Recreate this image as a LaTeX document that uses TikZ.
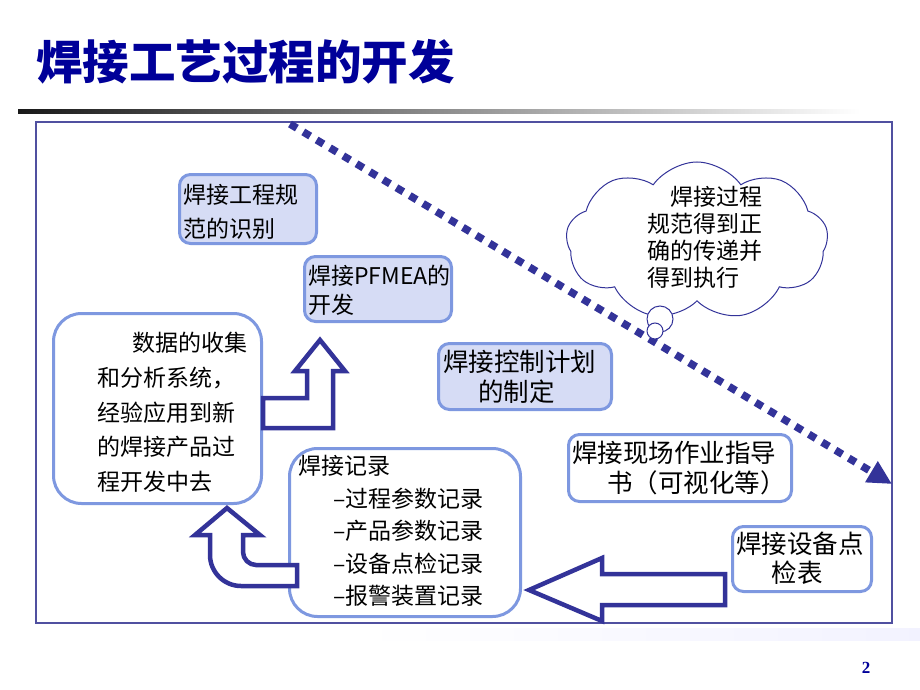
\documentclass[tikz,border=0pt]{standalone}
\usepackage{fontspec}
\setmainfont{Liberation Serif}
\newfontfamily\cjk{Noto Sans CJK SC}
\usetikzlibrary{shapes.symbols,arrows.meta}
\definecolor{titleblue}{RGB}{0,0,153}
\definecolor{navy}{RGB}{51,51,153}
\definecolor{framecol}{RGB}{80,80,160}
\definecolor{boxedge}{RGB}{126,152,224}
\definecolor{boxfill}{RGB}{214,220,245}
\tikzset{
  rbox/.style={draw=boxedge, line width=3pt, rounded corners=11pt, inner sep=0pt, fill=white},
  fbox/.style={rbox, fill=boxfill},
  bigbox/.style={rbox, rounded corners=28pt},
  txt/.style={font=\cjk\fontsize{23}{33}\selectfont, align=left, inner sep=0pt, anchor=west},
  txtb/.style={font=\cjk\fontsize{25.5}{30}\selectfont, align=left, inner sep=0pt, anchor=west},
  blockarrow/.style={draw=navy, line width=4.5pt, fill=white, line join=miter},
  bubble/.style={circle, draw=navy, fill=white, line width=1pt, inner sep=0pt},
}
\begin{document}
\begin{tikzpicture}[x=1pt,y=-1pt]
\useasboundingbox (0,0) rectangle (920,690);
\fill[white] (0,0) rectangle (920,690);
% title and rule
\node[font=\cjk\bfseries\fontsize{46.5}{50}\selectfont, text=titleblue, anchor=west, inner sep=0pt] (title) at (36,61.5) {焊接工艺过程的开发};
\shade[left color=black!90, right color=white] (18,110) rectangle (860,114);
% frame
\draw[framecol, line width=1.2pt] (36,122) rectangle (892,623);
\shade[left color=white, right color=blue!5] (360,628) rectangle (920,640);
% dotted arrow
\coordinate (dstart) at (290,124);
\coordinate (dend) at (892,484);
\draw[navy, line width=7.5pt, dash pattern=on 8pt off 7.5pt, -{Triangle[length=24pt,width=23pt]}] (dstart) -- (dend);
% boxes
\node[fbox, minimum width=137, minimum height=69] (spec) at (248,209) {};
\node[fbox, minimum width=147, minimum height=65] (pfmea) at (378,289) {};
\node[bigbox, minimum width=208, minimum height=190] (data) at (157.5,408.5) {};
\node[bigbox, minimum width=231, minimum height=168] (rec) at (405,532.5) {};
\node[fbox, minimum width=173, minimum height=66] (ctrl) at (525,376.5) {};
\node[rbox, minimum width=223, minimum height=67] (field) at (680,468) {};
\node[rbox, minimum width=139, minimum height=65] (equip) at (802,559) {};
% block arrows
\draw[blockarrow] (263,398) -- (307,398) -- (307,371) -- (295,371) -- (320,340) -- (345,371) -- (333,371) -- (333,428) -- (263,428) -- cycle;
\draw[blockarrow] (297,565) -- (256,565) .. controls (249,565) and (243,559) .. (243,552) -- (243,535) -- (260,535) -- (227,508) -- (195,535) -- (210,535) -- (210,555) .. controls (210,572) and (224,586) .. (241,586) -- (297,586) -- cycle;
\draw[blockarrow] (725,574) -- (602,574) -- (602,558) -- (529,590) -- (602,621) -- (602,605) -- (725,605) -- cycle;
% cloud
\node[cloud, cloud puffs=9, cloud puff arc=110, cloud ignores aspect, draw=navy, fill=white, line width=1pt, minimum width=262, minimum height=158, inner sep=0pt] (cloud) at (697,241) {};
\node[bubble, minimum size=26] (b1) at (660,319) {};
\node[bubble, minimum size=16] (b2) at (655,331) {};
% texts
\node[txt, font=\cjk\fontsize{23}{34}\selectfont] (specT) at (183,211.5) {焊接工程规\\范的识别};
\node[txt, font=\cjk\fontsize{23}{29}\selectfont] (pfmeaT) at (308,290) {焊接PFMEA的\\开发};
\node[txt, font=\cjk\fontsize{23}{34.75}\selectfont] (dataT) at (97,412.5) {\hspace*{35pt}数据的收集\\和分析系统，\\经验应用到新\\的焊接产品过\\程开发中去};
\node[txt, font=\cjk\fontsize{23}{32.5}\selectfont] (recT) at (298,531) {焊接记录\\\hspace*{35pt}–过程参数记录\\\hspace*{35pt}–产品参数记录\\\hspace*{35pt}–设备点检记录\\\hspace*{35pt}–报警装置记录};
\node[txtb] (ctrlT) at (443,377) {焊接控制计划\\\hspace*{35pt}的制定};
\node[txtb] (fieldT) at (572,468) {焊接现场作业指导\\\hspace*{35pt}书（可视化等）};
\node[txtb, font=\cjk\fontsize{25.5}{29}\selectfont] (equipT) at (736,558.5) {焊接设备点\\\hspace*{35.5pt}检表};
\node[txt, font=\cjk\fontsize{23}{27}\selectfont] (cloudT) at (647,237.5) {\hspace*{23pt}焊接过程\\规范得到正\\确的传递并\\得到执行};
% page number
\node[font=\bfseries\fontsize{17}{17}\selectfont, text=titleblue, inner sep=0pt] (page) at (866,668) {2};
\end{tikzpicture}
\end{document}
